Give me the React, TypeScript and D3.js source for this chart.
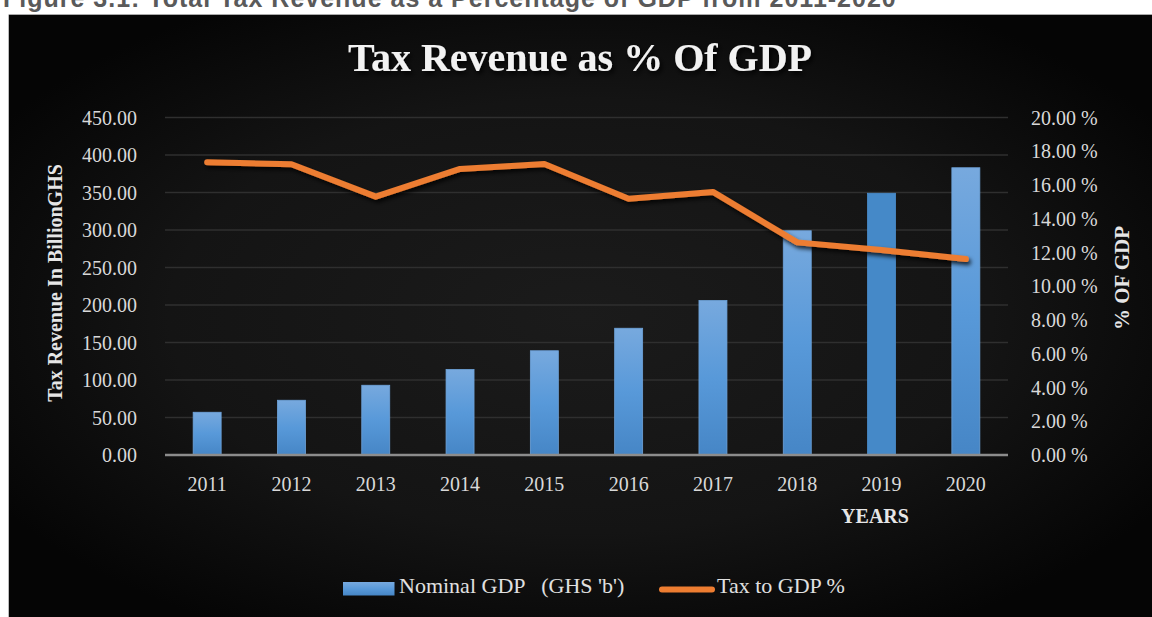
import React from 'react';
import * as d3 from 'd3';

const years = ['2011', '2012', '2013', '2014', '2015', '2016', '2017', '2018', '2019', '2020'];
const nominalGDP = [57, 73, 93, 114, 139, 169, 206, 299, 349, 383];
const taxToGDP = [17.35, 17.23, 15.31, 16.95, 17.24, 15.19, 15.59, 12.6, 12.15, 11.61];
const leftTicks = [0, 50, 100, 150, 200, 250, 300, 350, 400, 450];
const rightTicks = [0, 2, 4, 6, 8, 10, 12, 14, 16, 18, 20];

const W = 1152;
const H = 617;
const SERIF = '"Liberation Serif", "Times New Roman", serif';

export default function App() {
  const x = d3.scaleBand<string>().domain(years).range([165, 1008]).paddingInner(0.668).paddingOuter(0.334);
  const yL = d3.scaleLinear().domain([0, 450]).range([455, 117.5]);
  const yR = d3.scaleLinear().domain([0, 20]).range([455, 117.5]);
  const line = d3
    .line<number>()
    .x((_, i) => (x(years[i]) as number) + x.bandwidth() / 2)
    .y((d) => yR(d));

  return (
    <svg width={W} height={H} style={{ position: 'absolute', left: 0, top: 0, background: '#fff' }}>
      <defs>
        <radialGradient id="bg" cx="50%" cy="50%" r="60%">
          <stop offset="0%" stopColor="#1b1b1b" />
          <stop offset="60%" stopColor="#141414" />
          <stop offset="100%" stopColor="#050505" />
        </radialGradient>
        <linearGradient id="barGrad" x1="0" y1="0" x2="0" y2="1">
          <stop offset="0%" stopColor="#77a9de" />
          <stop offset="50%" stopColor="#5899d9" />
          <stop offset="100%" stopColor="#4686c6" />
        </linearGradient>
        <filter id="shadow" x="-10%" y="-30%" width="120%" height="160%">
          <feDropShadow dx="2" dy="3" stdDeviation="2" floodColor="#000" floodOpacity="0.8" />
        </filter>
        <filter id="tshadow" x="-10%" y="-30%" width="120%" height="160%">
          <feDropShadow dx="2" dy="3" stdDeviation="2.5" floodColor="#000" floodOpacity="0.9" />
        </filter>
      </defs>

      <text x={3} y={7} fontFamily='"Liberation Sans", Arial, sans-serif' fontWeight="bold" fontSize={25} letterSpacing={1} fill="#5a5a5a">
        Figure 3.1: Total Tax Revenue as a Percentage of GDP from 2011-2020
      </text>

      <rect x={9} y={15} width={W - 9} height={H - 15} fill="url(#bg)" />
      <line x1={9} x2={W} y1={14.5} y2={14.5} stroke="#aaa" strokeWidth={1} />
      <line x1={8.5} x2={8.5} y1={14.5} y2={H} stroke="#bbb" strokeWidth={1} />

      <text x={580} y={71} textAnchor="middle" fontFamily={SERIF} fontWeight="bold" fontSize={40} fill="#f2f2f2" filter="url(#tshadow)">
        Tax Revenue as % Of GDP
      </text>

      {leftTicks.map((t) => (
        <line key={'g' + t} x1={165} x2={1008} y1={yL(t)} y2={yL(t)} stroke="#2f2f2f" strokeWidth={1.5} />
      ))}

      {years.map((yr, i) => (
        <rect
          key={'b' + yr}
          x={x(yr)}
          y={yL(nominalGDP[i])}
          width={x.bandwidth()}
          height={455 - yL(nominalGDP[i])}
          fill={i === 8 ? '#4589c8' : 'url(#barGrad)'}
          stroke={i === 8 ? '#4a8dcc' : '#6ea3da'}
          strokeWidth={0.8}
        />
      ))}

      <line x1={165} x2={1008} y1={455} y2={455} stroke="#8c8c8c" strokeWidth={2.5} />

      <path d={line(taxToGDP) || ''} fill="none" stroke="#ed7d31" strokeWidth={6} strokeLinecap="round" strokeLinejoin="round" filter="url(#shadow)" />

      {leftTicks.map((t) => (
        <text key={'l' + t} x={137} y={yL(t) + 7} textAnchor="end" fontFamily={SERIF} fontSize={20} fill="#d9d9d9">
          {t.toFixed(2)}
        </text>
      ))}
      {rightTicks.map((t) => (
        <text key={'r' + t} x={1031} y={yR(t) + 7} textAnchor="start" fontFamily={SERIF} fontSize={20} fill="#d9d9d9">
          {t.toFixed(2) + ' %'}
        </text>
      ))}
      {years.map((yr) => (
        <text key={'x' + yr} x={(x(yr) as number) + x.bandwidth() / 2} y={491} textAnchor="middle" fontFamily={SERIF} fontSize={20} fill="#d9d9d9">
          {yr}
        </text>
      ))}

      <text transform="translate(62,283) rotate(-90)" textAnchor="middle" fontFamily={SERIF} fontWeight="bold" fontSize={20} fill="#e6e6e6">
        Tax Revenue In BillionGHS
      </text>
      <text transform="translate(1129,278) rotate(-90)" textAnchor="middle" fontFamily={SERIF} fontWeight="bold" fontSize={21} fill="#e6e6e6">
        % OF GDP
      </text>
      <text x={875} y={523} textAnchor="middle" fontFamily={SERIF} fontWeight="bold" fontSize={20} fill="#e6e6e6">
        YEARS
      </text>

      <rect x={343} y={582} width={51.5} height={13.5} fill="url(#barGrad)" />
      <text x={399} y={593} fontFamily={SERIF} fontSize={22} fill="#e0e0e0" style={{ whiteSpace: 'pre' }}>
        {"Nominal GDP   (GHS 'b')"}
      </text>
      <line x1={662} x2={712} y1={589.5} y2={589.5} stroke="#ed7d31" strokeWidth={6} strokeLinecap="round" />
      <text x={717} y={593} fontFamily={SERIF} fontSize={22} fill="#e0e0e0">
        Tax to GDP %
      </text>
    </svg>
  );
}
